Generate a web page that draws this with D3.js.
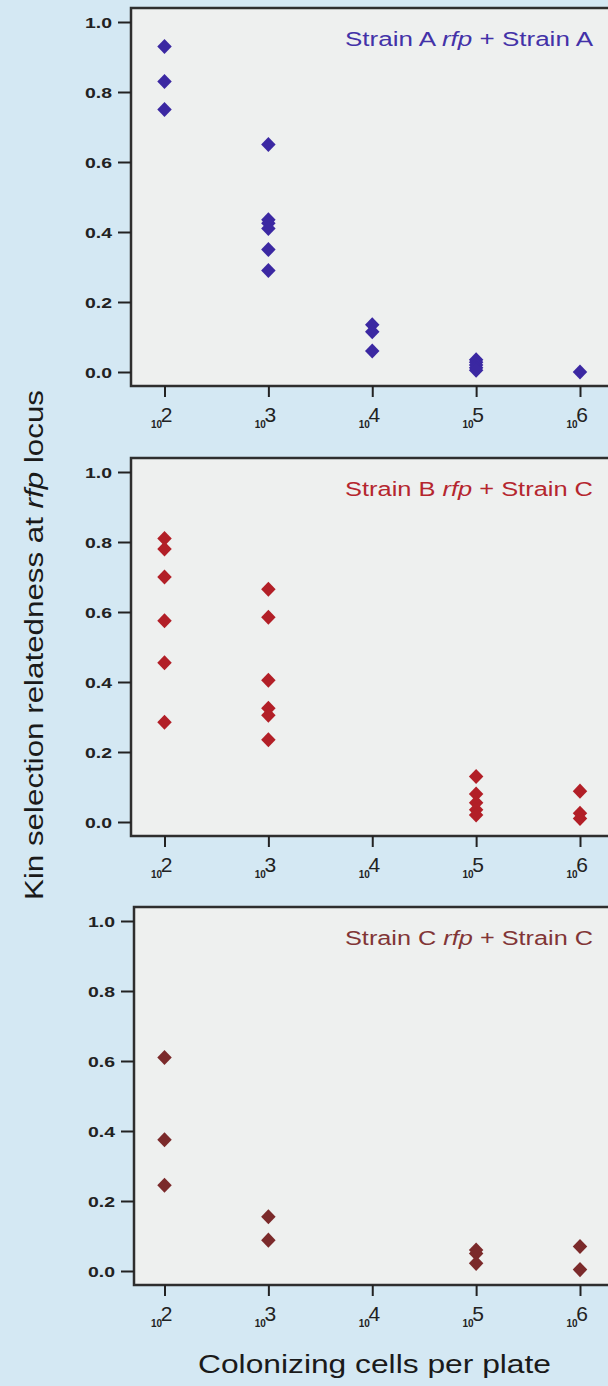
<!DOCTYPE html>
<html>
<head>
<meta charset="utf-8">
<script src="https://cdn.jsdelivr.net/npm/d3@7"></script>
<style>
    body { margin: 0; background: #d4e8f3; }
    svg { display: block; }
</style>
</head>
<body>
<svg id="drawing_region"></svg>
<script>
// tick values
const cellTicks = [1e2, 1e3, 1e4, 1e5, 1e6];
const kinTicks = [0, 0.2, 0.4, 0.6, 0.8, 1.0];

// Strain A rfp + Strain A
const cellsA = [1e2, 1e2, 1e2, 1e3, 1e3, 1e3, 1e3, 1e3, 1e3, 1e4, 1e4, 1e4, 1e5, 1e5, 1e5, 1e5, 1e5, 1e6];
const kinA   = [0.93, 0.83, 0.75, 0.65, 0.435, 0.425, 0.41, 0.35, 0.29, 0.135, 0.115, 0.06, 0.035, 0.028, 0.02, 0.012, 0.005, 0.0];

// Strain B rfp + Strain C
const cellsB = [1e2, 1e2, 1e2, 1e2, 1e2, 1e2, 1e3, 1e3, 1e3, 1e3, 1e3, 1e3, 1e5, 1e5, 1e5, 1e5, 1e5, 1e6, 1e6, 1e6];
const kinB   = [0.81, 0.78, 0.70, 0.575, 0.455, 0.285, 0.665, 0.585, 0.405, 0.325, 0.305, 0.235, 0.13, 0.08, 0.055, 0.035, 0.02, 0.088, 0.025, 0.01];

// Strain C rfp + Strain C
const cellsC = [1e2, 1e2, 1e2, 1e3, 1e3, 1e5, 1e5, 1e5, 1e6, 1e6];
const kinC   = [0.61, 0.375, 0.245, 0.155, 0.088, 0.06, 0.05, 0.022, 0.07, 0.004];

const legendA = ["Strain A ", "rfp", " + Strain A"];
const legendB = ["Strain B ", "rfp", " + Strain C"];
const legendC = ["Strain C ", "rfp", " + Strain C"];

const FONT = '"Liberation Sans", Arial, sans-serif';

const svg = d3.select('#drawing_region')
    .attr('width', 608)
    .attr('height', 1386);

// square diamond, same width and height
const diamond = {
    draw(ctx, size) {
        const r = Math.sqrt(size) / 2;
        ctx.moveTo(0, -r * 1.05);
        ctx.lineTo(r, 0);
        ctx.lineTo(0, r * 1.05);
        ctx.lineTo(-r, 0);
        ctx.closePath();
    }
};

class Panel {
    constructor( config, cells, kin, legend ) {
        this.config = config;
        this.cells = cells;
        this.kin = kin;
        this.legend = legend;
        this.init();
    }

    init() {
        let self = this;
        const top = self.config.top;

        self.xscale = d3.scaleLog()
            .domain([1e2, 1e6])
            .range([164.5, 580]);

        self.yscale = d3.scaleLinear()
            .domain([0, 1])
            .range([top + 364, top + 14]);

        self.chart = svg.append('g');
    }

    render() {
        let self = this;
        const y = self.yscale, x = self.xscale;
        const left = self.config.left;
        const bottom = y(-0.04);

        self.chart.append('rect')
            .attr('x', left)
            .attr('y', y(1.04))
            .attr('width', 700)
            .attr('height', bottom - y(1.04))
            .attr('fill', '#eef0ef')
            .attr('stroke', '#2e2e2e')
            .attr('stroke-width', 2.5);

        // y axis
        const yaxis = self.chart.append('g')
            .attr('transform', `translate(${left},0)`)
            .call(d3.axisLeft(y).tickValues(kinTicks).tickFormat(d3.format('.1f')).tickSize(13).tickPadding(6));
        yaxis.select('.domain').remove();
        yaxis.selectAll('line').attr('stroke', '#222').attr('stroke-width', 2);
        yaxis.selectAll('text')
            .attr('fill', '#222')
            .attr('dy', '0.36em')
            .style('font-family', FONT)
            .style('font-weight', 'bold')
            .style('font-size', '15px')
            .attr('textLength', 27)
            .attr('lengthAdjust', 'spacingAndGlyphs');

        // x axis with 10^n labels
        const xaxis = self.chart.append('g')
            .attr('transform', `translate(0,${bottom})`)
            .call(d3.axisBottom(x).tickValues(cellTicks).tickFormat('').tickSize(11));
        xaxis.select('.domain').remove();
        xaxis.selectAll('line').attr('stroke', '#222').attr('stroke-width', 2);
        xaxis.selectAll('.tick text').remove();
        xaxis.selectAll('.tick').each(function(d) {
            const t = d3.select(this);
            t.append('text')
                .attr('x', -3).attr('y', 42)
                .attr('text-anchor', 'end')
                .attr('fill', '#222')
                .style('font-family', FONT)
                .style('font-weight', 'bold')
                .style('font-size', '10px')
                .text('10');
            t.append('text')
                .attr('x', 1.5).attr('y', 36)
                .attr('fill', '#222')
                .style('font-family', FONT)
                .style('font-size', '21px')
                .text(Math.round(Math.log10(d)));
        });

        // points
        self.chart.selectAll('.pt')
            .data(self.cells.map((c, i) => ({ c: c, k: self.kin[i] })))
            .enter()
            .append('path')
            .attr('class', 'pt')
            .attr('d', d3.symbol(diamond, 210))
            .attr('transform', d => `translate(${x(d.c)},${y(d.k)})`)
            .attr('fill', self.config.color);

        // legend
        const lg = self.chart.append('text')
            .attr('x', 593)
            .attr('y', self.config.top + 38)
            .attr('text-anchor', 'end')
            .attr('fill', self.config.labelColor)
            .style('font-family', FONT)
            .style('font-size', '20px')
            .attr('textLength', 248)
            .attr('lengthAdjust', 'spacingAndGlyphs');
        self.legend.forEach((s, i) => {
            lg.append('tspan')
                .style('font-style', i == 1 ? 'italic' : 'normal')
                .text(s);
        });
    }
}

new Panel({ top: 8, left: 131, color: '#3b28a2', labelColor: '#4332a8' }, cellsA, kinA, legendA).render();
new Panel({ top: 458, left: 131, color: '#b21f27', labelColor: '#b5262e' }, cellsB, kinB, legendB).render();
new Panel({ top: 907, left: 134, color: '#7b2a2b', labelColor: '#813536' }, cellsC, kinC, legendC).render();

// axis titles
const ytitle = svg.append('text')
    .attr('transform', 'translate(43,645) rotate(-90)')
    .attr('text-anchor', 'middle')
    .attr('fill', '#1a1a1a')
    .style('font-family', FONT)
    .style('font-size', '25px')
    .attr('textLength', 510)
    .attr('lengthAdjust', 'spacingAndGlyphs');
ytitle.append('tspan').text('Kin selection relatedness at ');
ytitle.append('tspan').style('font-style', 'italic').text('rfp');
ytitle.append('tspan').text(' locus');

svg.append('text')
    .attr('x', 374.5)
    .attr('y', 1373)
    .attr('text-anchor', 'middle')
    .attr('fill', '#1a1a1a')
    .style('font-family', FONT)
    .style('font-size', '25px')
    .attr('textLength', 353)
    .attr('lengthAdjust', 'spacingAndGlyphs')
    .text('Colonizing cells per plate');
</script>
</body>
</html>
